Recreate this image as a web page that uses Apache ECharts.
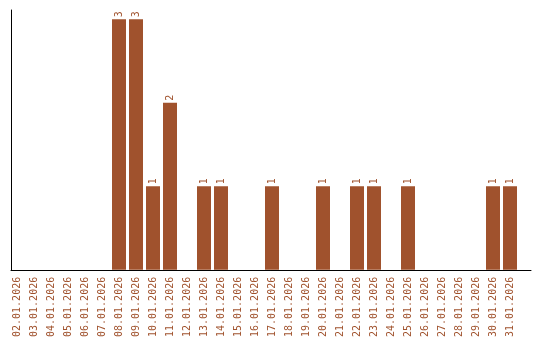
<!DOCTYPE html>
<html><head><meta charset="utf-8">
<script src="https://cdn.jsdelivr.net/npm/echarts@6/dist/echarts.min.js"></script>
<style>html,body{margin:0;padding:0;background:#fff}#c{width:540px;height:340px}</style>
</head><body><div id="c"></div>
<script>
const categories = ["02.01.2026","03.01.2026","04.01.2026","05.01.2026","06.01.2026","07.01.2026","08.01.2026","09.01.2026","10.01.2026","11.01.2026","12.01.2026","13.01.2026","14.01.2026","15.01.2026","16.01.2026","17.01.2026","18.01.2026","19.01.2026","20.01.2026","21.01.2026","22.01.2026","23.01.2026","24.01.2026","25.01.2026","26.01.2026","27.01.2026","28.01.2026","29.01.2026","30.01.2026","31.01.2026"];
const values = [null,null,null,null,null,null,3,3,1,2,null,1,1,null,null,1,null,null,1,null,1,1,null,1,null,null,null,null,1,1];
const color = '#a0522d';
const font = 'DejaVu Sans Mono';
const chart = echarts.init(document.getElementById('c'), null, {renderer:'canvas'});
chart.setOption({
  animation:false,
  grid:[
    {left:8.5, width:510, top:10, height:260},
    {left:11, right:9, top:10, height:260}
  ],
  xAxis:[
    {type:'category', gridIndex:0, data:categories,
     axisLine:{show:false}, axisTick:{show:false},
     axisLabel:{rotate:90, margin:7, interval:0, color:color, fontFamily:font, fontSize:10}},
    {type:'value', gridIndex:1, min:0, max:1, splitLine:{show:false}, axisTick:{show:false}, axisLabel:{show:false},
     axisLine:{show:true, lineStyle:{color:'#000', width:1}}}
  ],
  yAxis:[
    {type:'value', gridIndex:0, min:0, max:3.11, show:false},
    {type:'value', gridIndex:1, min:0, max:1, splitLine:{show:false}, axisTick:{show:false}, axisLabel:{show:false},
     axisLine:{show:true, lineStyle:{color:'#000', width:1}}}
  ],
  series:[{
    type:'bar', xAxisIndex:0, yAxisIndex:0, data:values, barWidth:14,
    itemStyle:{color:color},
    label:{show:true, position:'top', rotate:90, distance:2, align:'left', verticalAlign:'middle',
      color:color, fontFamily:font, fontSize:10}
  }]
});
</script></body></html>
